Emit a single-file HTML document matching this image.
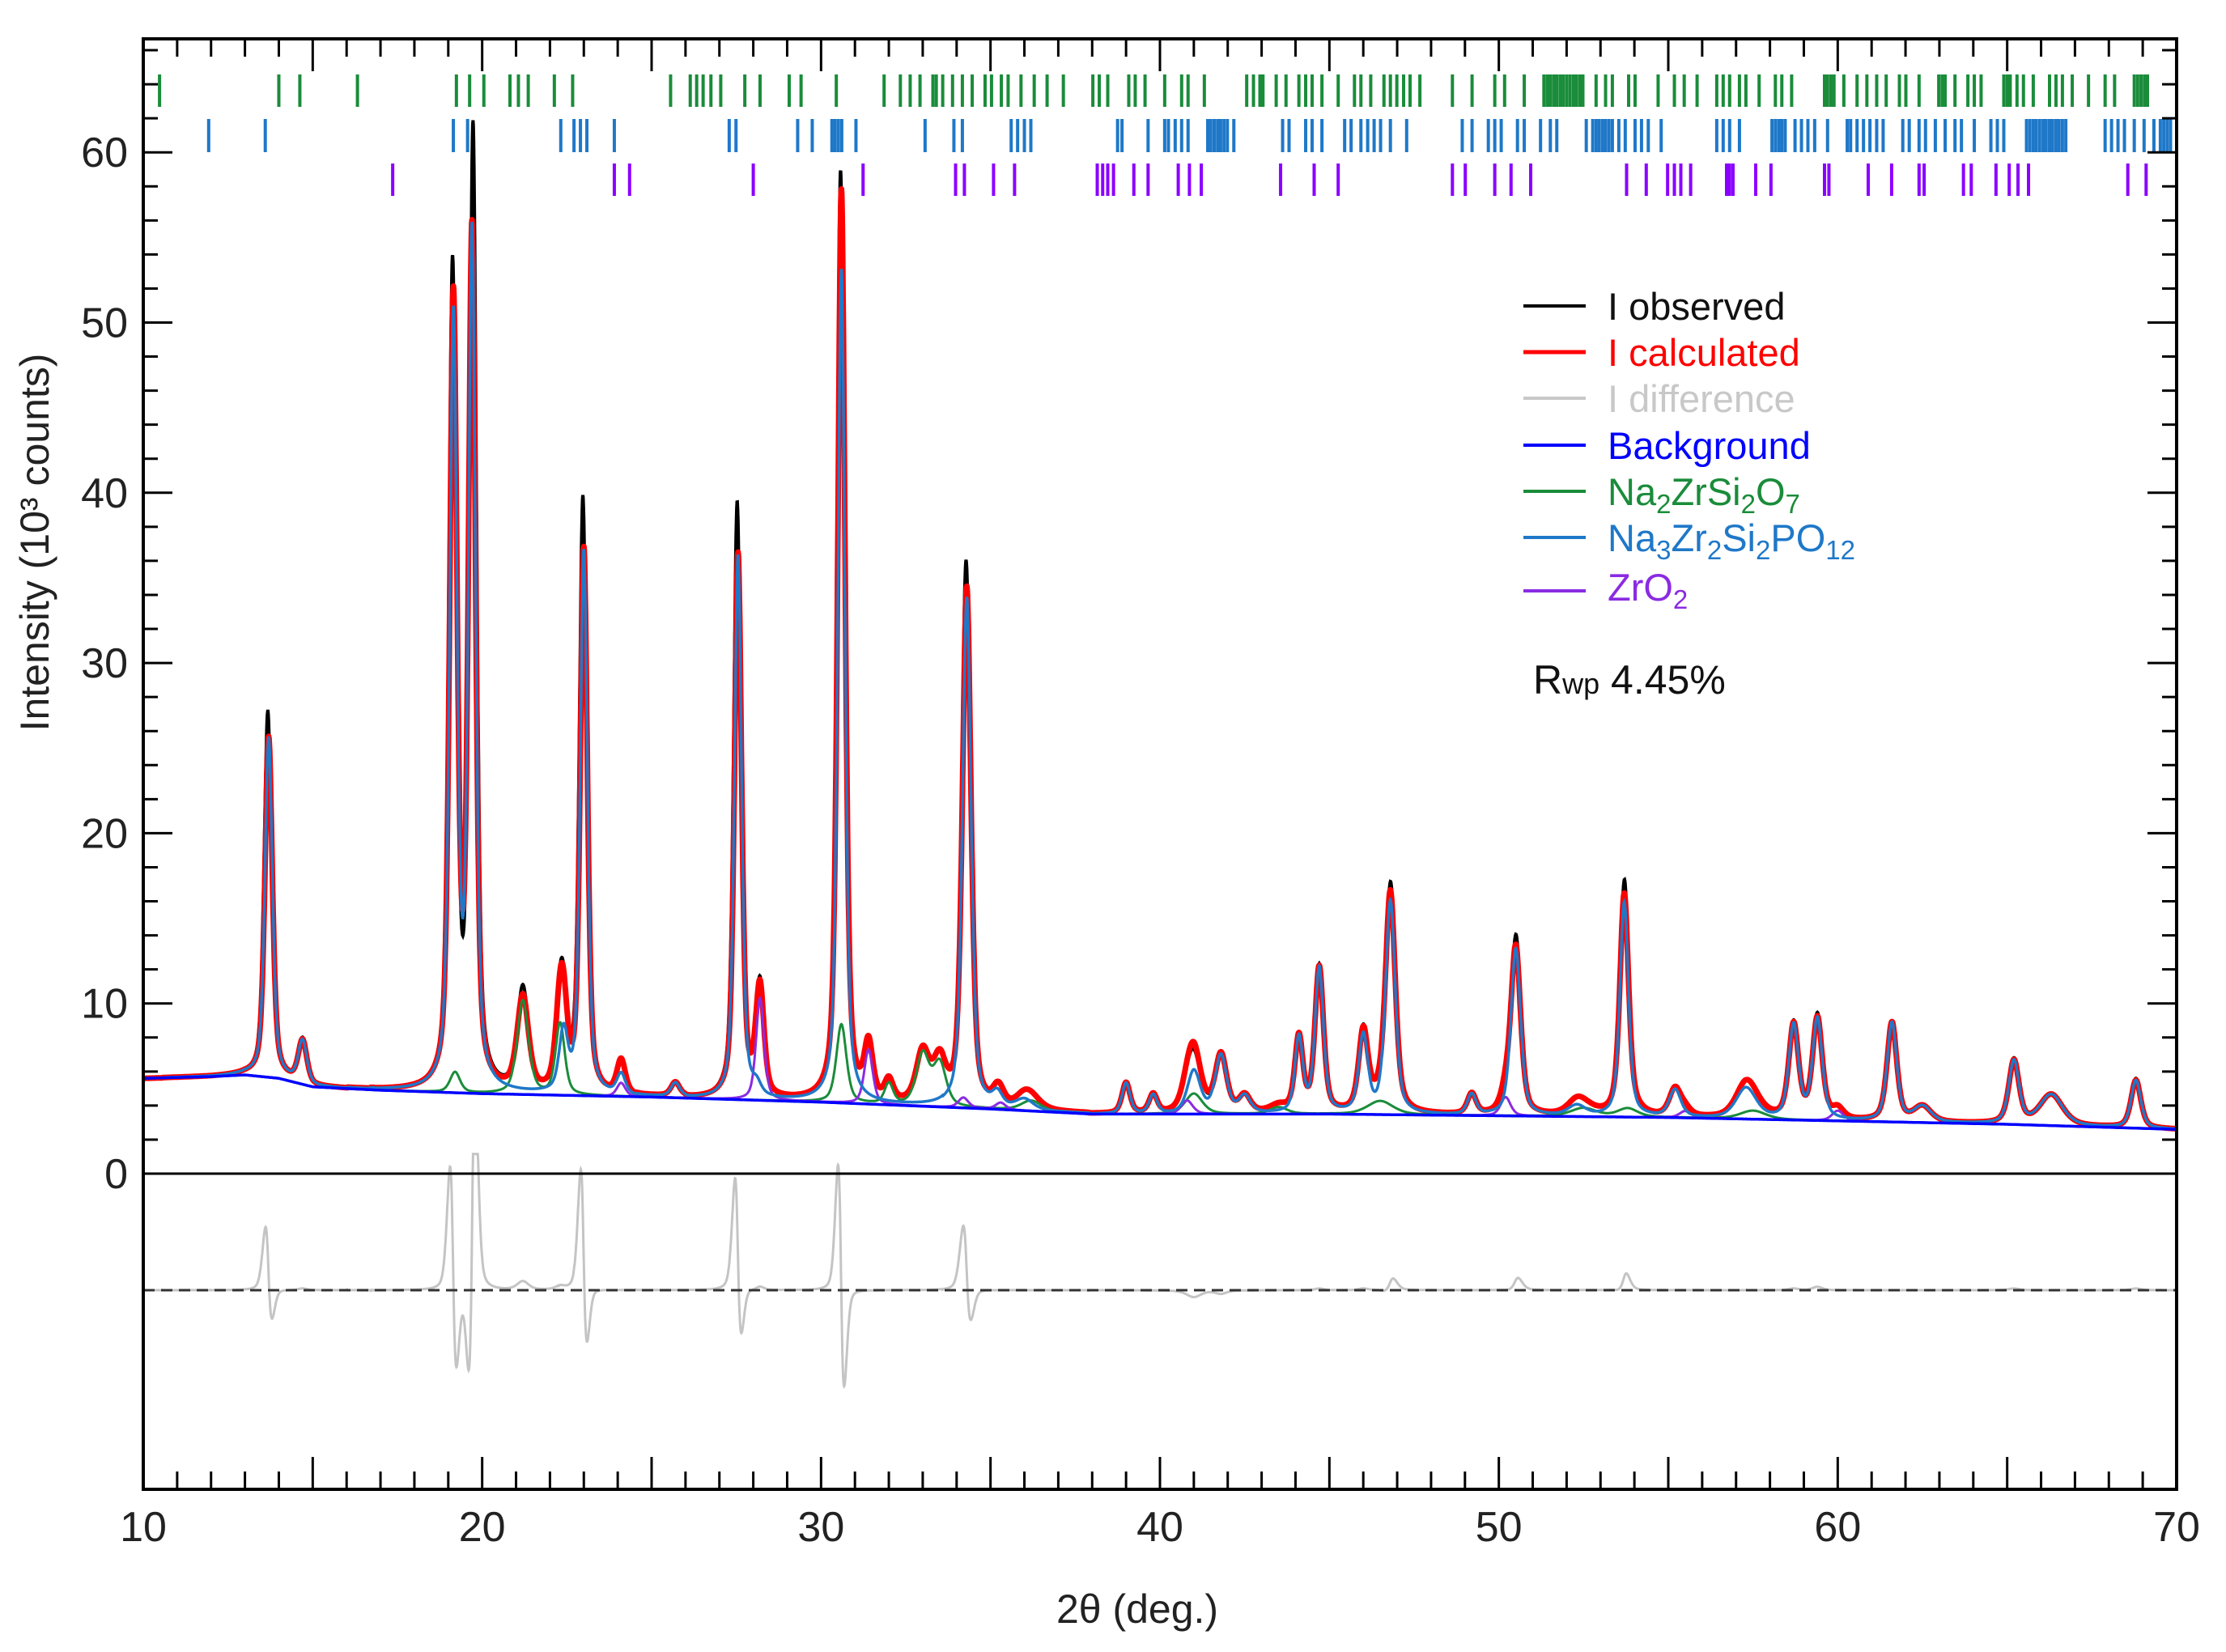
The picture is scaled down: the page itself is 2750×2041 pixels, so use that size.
<!DOCTYPE html>
<html><head><meta charset="utf-8">
<style>
html,body{margin:0;padding:0;background:#fff;}
svg{display:block;font-family:"Liberation Sans","DejaVu Sans",sans-serif;}
</style></head>
<body>
<svg id="chart" width="2750" height="2041" viewBox="0 0 2750 2041" xmlns="http://www.w3.org/2000/svg">
<rect x="0" y="0" width="2750" height="2041" fill="#fff"/>
<g id="curves"></g>
<g id="refl"></g>
<g id="axes"></g>
<text x="0" y="0" transform="translate(60,670) rotate(-90)" text-anchor="middle" font-size="50" fill="#222">Intensity (10³ counts)</text>
<text x="1405" y="2005" text-anchor="middle" font-size="50" fill="#222">2θ (deg.)</text>
<g font-size="47">
 <line x1="1882" y1="378" x2="1959" y2="378" stroke="#000" stroke-width="4"/>
 <text x="1986" y="395" fill="#111">I observed</text>
 <line x1="1882" y1="435" x2="1959" y2="435" stroke="#f00" stroke-width="5"/>
 <text x="1986" y="452" fill="#f00">I calculated</text>
 <line x1="1882" y1="492" x2="1959" y2="492" stroke="#c8c8c8" stroke-width="4"/>
 <text x="1986" y="509" fill="#c8c8c8">I difference</text>
 <line x1="1882" y1="550" x2="1959" y2="550" stroke="#0000ff" stroke-width="4"/>
 <text x="1986" y="567" fill="#0000ff">Background</text>
 <line x1="1882" y1="607" x2="1959" y2="607" stroke="#1a8c3a" stroke-width="4"/>
 <text x="1986" y="624" fill="#1a8c3a">Na<tspan font-size="33" dy="10">2</tspan><tspan dy="-10">ZrSi</tspan><tspan font-size="33" dy="10">2</tspan><tspan dy="-10">O</tspan><tspan font-size="33" dy="10">7</tspan></text>
 <line x1="1882" y1="664" x2="1959" y2="664" stroke="#1f78c8" stroke-width="4"/>
 <text x="1986" y="681" fill="#1f78c8">Na<tspan font-size="33" dy="10">3</tspan><tspan dy="-10">Zr</tspan><tspan font-size="33" dy="10">2</tspan><tspan dy="-10">Si</tspan><tspan font-size="33" dy="10">2</tspan><tspan dy="-10">PO</tspan><tspan font-size="33" dy="10">12</tspan></text>
 <line x1="1882" y1="730" x2="1959" y2="730" stroke="#8a2be2" stroke-width="4"/>
 <text x="1986" y="742" fill="#8a2be2">ZrO<tspan font-size="33" dy="10">2</tspan></text>
</g>
<text x="1894" y="857" font-size="50" fill="#111">R<tspan font-size="36">wp</tspan> 4.45%</text>
</svg>
<script>
// ---- data ----
const bgX = [10,12,13,14,15,17,20,25,30,35,38,40,45,50,55,60,65,70];
const bgY = [5.6,5.7,5.8,5.6,5.1,4.9,4.7,4.5,4.2,3.8,3.5,3.5,3.5,3.4,3.3,3.1,2.9,2.6];

const nasPos  = [13.7,14.7,19.15,19.7,22.4,23.0,24.1,25.7,27.55,28.1,30.6,34.3,35.2,36.0,39.0,39.8,41.0,41.8,42.5,44.1,44.7,46.0,46.8,49.2,50.5,52.3,53.7,55.2,57.3,58.7,59.4,61.6,62.5,65.2,66.3,68.8];
const nasCalc = [20,2.5,45,50,3.5,32,1.2,0.8,32,0.6,49,30,0.8,0.6,1.8,1.1,2.5,3.4,1.0,4.4,8.5,4.5,12.5,1.2,9.8,0.6,12.6,1.6,1.8,5.5,5.9,5.8,0.9,3.7,1.8,2.8];
const nasObs  = [21.5,2.6,47,56,3.5,35,1.2,0.8,35,0.6,50,31.5,0.8,0.6,1.8,1.1,2.3,3.2,1.0,4.4,8.6,4.6,13,1.2,10.4,0.6,13.4,1.6,1.8,5.6,6.1,5.8,0.9,3.8,1.8,2.9];
const nasWid  = [0.26,0.3,0.26,0.25,0.3,0.25,0.3,0.3,0.25,0.3,0.25,0.3,0.35,0.6,0.28,0.28,0.45,0.4,0.4,0.28,0.3,0.32,0.34,0.3,0.34,0.6,0.3,0.4,0.7,0.34,0.34,0.34,0.6,0.36,0.8,0.34];
const nasShift= [-0.025,0,-0.025,0.03,0,-0.028,0,0,-0.025,0,-0.025,-0.02,0,0,0,0,0,0,0,0,0,0,0.006,0,0.006,0,0.006,0,0,0,0,0,0,0,0,0];

const grnPos  = [19.2,21.2,22.3,30.6,32.0,33.0,33.5,36.2,41.0,43.5,46.5,52.5,53.8,57.5];
const grnCalc = [1.2,5.5,4.2,4.6,1.2,3.0,2.5,0.6,1.2,0.4,0.8,0.5,0.5,0.5];
const grnObs  = [1.2,6.0,4.4,4.8,1.2,3.0,2.5,0.6,1.0,0.4,0.8,0.5,0.5,0.5];
const grnWid  = [0.35,0.4,0.32,0.35,0.3,0.45,0.45,0.7,0.6,0.6,0.9,0.9,0.7,0.9];

const zrPos  = [24.1,28.2,31.4,34.2,35.3,40.8,50.2,55.5,60.0];
const zrCalc = [0.8,6.0,3.2,0.6,0.4,0.8,1.1,0.4,0.6];
const zrObs  = [0.8,6.2,3.2,0.6,0.4,0.8,1.1,0.4,0.6];
const zrWid  = [0.3,0.28,0.3,0.35,0.35,0.4,0.35,0.4,0.4];

const reflGreen = [10.48,14.0,14.62,16.32,19.24,19.63,20.05,20.82,21.07,21.36,22.13,22.67,25.56,26.14,26.33,26.52,26.75,27.04,27.75,28.2,29.06,29.41,30.45,31.86,32.34,32.63,32.92,33.3,33.4,33.59,33.88,34.17,34.46,34.84,35.03,35.32,35.52,35.9,36.29,36.67,37.15,38.02,38.21,38.46,39.08,39.27,39.56,40.14,40.64,40.83,41.31,42.56,42.76,42.95,43.04,43.43,43.72,44.10,44.30,44.49,44.78,45.26,45.74,45.93,46.22,46.61,46.80,46.99,47.19,47.38,47.67,48.63,49.21,49.88,50.17,50.75,51.33,51.43,51.52,51.62,51.71,51.81,51.90,52.0,52.10,52.2,52.29,52.39,52.48,52.87,53.15,53.35,53.83,54.02,54.70,55.18,55.47,55.85,56.43,56.62,56.81,57.10,57.29,57.68,58.16,58.35,58.64,59.61,59.70,59.80,59.89,60.18,60.57,60.86,61.15,61.43,61.82,62.01,62.40,62.98,63.08,63.17,63.46,63.84,64.03,64.23,64.90,65.0,65.09,65.29,65.48,65.77,66.25,66.44,66.63,66.92,67.40,67.89,68.17,68.75,68.85,68.95,69.05,69.14];
const reflBlue = [11.93,13.60,19.15,19.57,22.32,22.71,22.90,23.09,23.90,27.29,27.49,29.31,29.74,30.32,30.41,30.51,30.61,31.03,33.07,33.92,34.17,35.61,35.80,36.00,36.19,38.75,38.88,39.65,40.14,40.25,40.45,40.64,40.83,41.41,41.50,41.60,41.70,41.79,41.89,41.99,42.18,43.62,43.81,44.30,44.49,44.78,45.45,45.64,45.93,46.13,46.32,46.51,46.80,47.28,48.92,49.21,49.69,49.88,50.07,50.55,50.75,51.23,51.52,51.71,52.58,52.77,52.87,52.96,53.06,53.15,53.25,53.35,53.54,53.73,54.02,54.21,54.41,54.79,56.43,56.62,56.81,57.10,58.06,58.16,58.26,58.35,58.45,58.74,58.93,59.12,59.32,59.70,60.28,60.38,60.57,60.76,60.95,61.15,61.34,61.92,62.11,62.40,62.59,62.88,63.17,63.46,63.65,64.03,64.52,64.71,64.90,65.57,65.67,65.77,65.86,65.96,66.06,66.15,66.25,66.34,66.44,66.53,66.63,66.73,67.89,68.08,68.27,68.46,68.75,69.04,69.33,69.52,69.62,69.72,69.82];
const reflPurple = [17.36,23.90,24.35,28.00,31.24,33.97,34.23,35.09,35.71,38.15,38.31,38.46,38.63,39.23,39.65,40.54,40.87,41.22,43.56,44.55,45.26,48.63,49.01,49.88,50.36,50.94,53.77,54.35,54.98,55.18,55.37,55.66,56.72,56.81,56.91,57.58,58.03,59.61,59.74,60.90,61.59,62.40,62.55,63.71,63.94,64.67,65.06,65.32,65.63,68.56,69.10];

const xTicksMajor = [10,20,30,40,50,60,70];
const yTicksMajor = [0,10,20,30,40,50,60];

// ---- axes functions ----
const X0=177, X1=2689, Y0=1450, YTOP=48, YBOT=1840, YDIFF=1594, PXK=21.03;
function sx(d){return X0+(d-10)*(X1-X0)/60;}
function sy(v){return Y0-v*PXK;}
function sd(v){return YDIFF-v*PXK;}
function bgAt(d){
  for(let i=0;i<bgX.length-1;i++){ if(d<=bgX[i+1]){const t=(d-bgX[i])/(bgX[i+1]-bgX[i]);return bgY[i]+t*(bgY[i+1]-bgY[i]);} }
  return bgY[bgY.length-1];
}
function pv(x,p,w){const u=(x-p)/w;return 0.5/(1+4*u*u)+0.5*Math.exp(-2.7726*u*u);}
function sumPeaks(x,pos,h,w,sh){let s=0;for(let i=0;i<pos.length;i++){const p=pos[i]+(sh?sh[i]:0);if(Math.abs(x-p)<w[i]*12)s+=h[i]*pv(x,p,w[i]);}return s;}

const NS="http://www.w3.org/2000/svg";
function mk(tag,attrs,parent){const e=document.createElementNS(NS,tag);for(const k in attrs)e.setAttribute(k,attrs[k]);parent.appendChild(e);return e;}

const curves=document.getElementById('curves');
const step=0.01, N=6000;
let dObs="",dCalc="",dNas="",dGrn="",dZr="",dBg="",dDiff="";
for(let i=0;i<=N;i++){
  const x=10+i*step, b=bgAt(x);
  const nC=sumPeaks(x,nasPos,nasCalc,nasWid), gC=sumPeaks(x,grnPos,grnCalc,grnWid), zC=sumPeaks(x,zrPos,zrCalc,zrWid);
  const nO=sumPeaks(x,nasPos,nasObs,nasWid,nasShift), gO=sumPeaks(x,grnPos,grnObs,grnWid), zO=sumPeaks(x,zrPos,zrObs,zrWid);
  const calc=b+nC+gC+zC, obs=b+nO+gO+zO;
  const c=(i?"L":"M"), px=sx(x).toFixed(1);
  dObs+=c+px+","+sy(obs).toFixed(1);
  dCalc+=c+px+","+sy(calc).toFixed(1);
  dNas+=c+px+","+sy(b+nC).toFixed(1);
  dGrn+=c+px+","+sy(b+gC).toFixed(1);
  dZr+=c+px+","+sy(b+zC).toFixed(1);
  dBg+=c+px+","+sy(b).toFixed(1);
  dDiff+=c+px+","+sd(Math.max(-11,Math.min(8,obs-calc))).toFixed(1);
}
let e;
e=mk('path',{d:dObs,fill:'none',stroke:'#000','stroke-width':4},curves);


e=mk('path',{d:dCalc,fill:'none',stroke:'#ff0000','stroke-width':7,'stroke-linejoin':'round'},curves);


e=mk('path',{d:dGrn,fill:'none',stroke:'#1a8c3a','stroke-width':3},curves);


e=mk('path',{d:dZr,fill:'none',stroke:'#8a2be2','stroke-width':3},curves);


e=mk('path',{d:dNas,fill:'none',stroke:'#1f78c8','stroke-width':3.5},curves);


e=mk('path',{d:dBg,fill:'none',stroke:'#0000ff','stroke-width':3.5},curves);


e=mk('path',{d:dDiff,fill:'none',stroke:'#c4c4c4','stroke-width':3},curves);


e=mk('line',{x1:X0,y1:YDIFF,x2:X1,y2:YDIFF,stroke:'#333','stroke-width':3,'stroke-dasharray':'14,8'},curves);



// reflection markers
const refl=document.getElementById('refl');
const rows=[[reflGreen,'#1a8c3a',92,132],[reflBlue,'#1f78c8',147,188],[reflPurple,'#8a00ff',202,242]];
rows.forEach(r=>{
  r[0].forEach(d=>{
    const t=mk('line',{x1:sx(d),x2:sx(d),y1:r[2],y2:r[3],stroke:r[1],'stroke-width':4},refl);
    
    
  });
});

// axes
const axes=document.getElementById('axes');
e=mk('rect',{x:X0,y:YTOP,width:X1-X0,height:YBOT-YTOP,fill:'none',stroke:'#000','stroke-width':4},axes);


e=mk('line',{x1:X0,y1:Y0,x2:X1,y2:Y0,stroke:'#000','stroke-width':3},axes);


for(let d=10;d<=70;d++){
  const L=(d%5===0)?40:22;
  e=mk('line',{x1:sx(d),x2:sx(d),y1:YBOT,y2:YBOT-L,stroke:'#000','stroke-width':3},axes);
  
  
  e=mk('line',{x1:sx(d),x2:sx(d),y1:YTOP,y2:YTOP+L,stroke:'#000','stroke-width':3},axes);
  
  
}
xTicksMajor.forEach(d=>{
  const t=mk('text',{x:sx(d),y:1904,'text-anchor':'middle','font-size':52,fill:'#222'},axes);
  t.textContent=d;
  
  
});
for(let v=2;v<=66;v+=2){
  const L=(v%10===0)?36:18;
  e=mk('line',{x1:X0,x2:X0+L,y1:sy(v),y2:sy(v),stroke:'#000','stroke-width':3},axes);
  
  
  e=mk('line',{x1:X1,x2:X1-L,y1:sy(v),y2:sy(v),stroke:'#000','stroke-width':3},axes);
  
  
}
yTicksMajor.forEach(v=>{
  const t=mk('text',{x:158,y:sy(v)+18,'text-anchor':'end','font-size':52,fill:'#222'},axes);
  t.textContent=v;
  
  
});
</script>
</body></html>
